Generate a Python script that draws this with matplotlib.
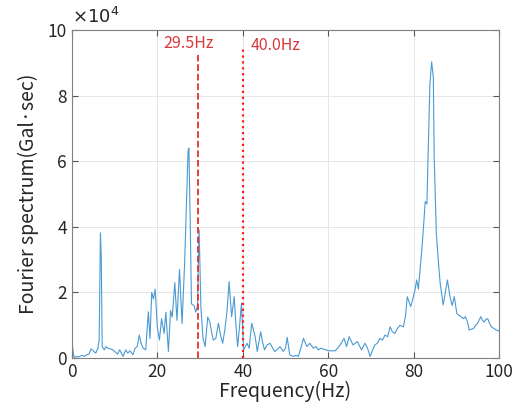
import matplotlib
matplotlib.use("Agg")
import matplotlib.pyplot as plt
from matplotlib.ticker import FuncFormatter
import numpy as np

# frequency (Hz) and amplitude (x 1e4 Gal*sec)
freq = [0, 0.15, 0.5, 1.0, 1.5, 2.0, 2.5, 3.0, 3.5, 4.0, 4.5, 5.0,
        5.6, 6.1, 6.4, 6.7, 6.9, 7.1, 7.6, 8.0, 8.4, 9.0, 9.6, 10.2, 10.7, 11.2, 12.0,
        12.6, 13.1, 13.6, 14.3, 14.8, 15.3, 15.8, 16.2, 16.7, 17.3, 17.9, 18.3, 18.7,
        19.1, 19.5, 20.0, 20.5, 21.0, 21.6, 22.0, 22.6, 23.1, 23.5, 24.1, 24.6,
        25.2, 25.8, 26.4, 26.8, 27.2, 27.4, 27.7, 28.0, 28.6, 29.0, 29.4, 29.8,
        30.2, 30.7, 31.2, 31.8, 32.3, 32.7, 33.1, 33.7, 34.3, 34.8, 35.3, 35.8,
        36.3, 36.8, 37.4, 38.0, 38.4, 38.8, 39.2, 39.7, 40.2, 41.0, 41.5, 42.1,
        42.5, 42.9, 43.4, 44.2, 44.6, 45.1, 45.7, 46.4, 47.0, 47.5, 48.0, 48.7,
        49.5, 50.0, 50.4, 51.0, 51.8, 52.5, 53.0, 53.6, 54.2, 55.0,
        55.7, 56.5, 57.1, 57.7, 58.3, 58.9, 59.5, 60.0, 61.0, 61.6,
        62.2, 62.8, 63.7, 64.3, 64.9, 65.8, 66.8, 67.8, 68.6, 69.2,
        69.8, 70.4, 70.9, 71.5, 72.1, 72.7, 73.3, 73.9, 74.5, 75.0, 75.6, 76.2, 76.8,
        77.6, 78.1, 78.5, 79.3, 79.8, 80.3, 80.7, 81.1, 81.5, 81.9, 82.3, 82.7,
        83.1, 83.4, 83.8, 84.2, 84.6, 84.8, 85.3, 85.8, 86.2, 86.9,
        87.4, 87.9, 88.5, 89.0, 89.5, 90.1, 90.6, 91.1, 91.6, 92.1, 92.6,
        93.0, 93.5, 94.0, 94.5, 94.9, 95.3, 95.7, 96.1, 96.5, 96.9, 97.3, 97.8, 98.2, 98.8, 99.4, 100]

amp = [0.40, 0.35, 0.02, 0.05, 0.03, 0.06, 0.08, 0.05, 0.10, 0.12, 0.28, 0.22,
       0.15, 0.30, 0.55, 3.82, 3.00, 0.35, 0.25, 0.35, 0.30, 0.28, 0.25, 0.18, 0.12, 0.25, 0.05,
       0.25, 0.15, 0.22, 0.10, 0.30, 0.35, 0.70, 0.45, 0.30, 0.25, 1.41, 0.60, 2.00,
       1.80, 2.10, 0.95, 0.55, 1.20, 0.75, 1.40, 0.20, 1.45, 1.25, 2.30, 1.15,
       2.70, 1.05, 2.90, 4.60, 6.30, 6.40, 4.20, 1.65, 1.60, 1.40, 1.60, 3.90,
       1.55, 0.60, 0.35, 1.25, 1.10, 0.80, 0.55, 0.60, 1.06, 0.70, 0.45, 0.85,
       1.40, 2.33, 1.26, 1.87, 1.00, 0.35, 0.90, 1.67, 0.25, 0.45, 0.30, 1.06,
       0.85, 0.65, 0.20, 0.80, 0.50, 0.25, 0.40, 0.45, 0.30, 0.20, 0.25, 0.35,
       0.20, 0.30, 0.63, 0.10, 0.05, 0.08, 0.05, 0.30, 0.60, 0.35,
       0.45, 0.30, 0.35, 0.25, 0.30, 0.27, 0.25, 0.22, 0.22, 0.22,
       0.30, 0.40, 0.60, 0.35, 0.65, 0.40, 0.50, 0.25, 0.45, 0.30,
       0.05, 0.25, 0.40, 0.45, 0.60, 0.55, 0.70, 0.65, 0.95, 0.80, 0.75, 0.90, 1.00,
       0.95, 1.30, 1.87, 1.57, 1.80, 2.07, 2.38, 2.10, 2.70, 3.30, 4.00, 4.77,
       4.70, 6.34, 8.37, 9.03, 8.55, 6.14, 3.80, 2.90, 2.28, 1.62,
       2.00, 2.38, 1.87, 1.60, 1.87, 1.36, 1.30, 1.26, 1.20, 1.26, 1.10,
       0.85, 0.88, 0.90, 1.00, 1.05, 1.15, 1.26, 1.15, 1.10, 1.18, 1.20, 1.05, 0.95, 0.90, 0.85, 0.82]

marker_freq = [29.5, 40.0]
marker_top = [9.25, 9.5]
marker_text = ["29.5Hz", "40.0Hz"]

label_font = ["Noto Sans CJK JP", "DejaVu Sans"]
plt.rcParams['font.family'] = label_font

fig = plt.figure(figsize=(5.13, 4.12), dpi=100)
ax = fig.add_axes([0.140, 0.131, 0.833, 0.796])

y = np.array(amp) * 1e4
ax.plot(freq, y, '-', color="#4a9ad4", linewidth=0.8)

# marker lines
ax.plot([marker_freq[0], marker_freq[0]], [0, marker_top[0] * 1e4], '--', color="#e8302e", linewidth=1.3)
ax.plot([marker_freq[1], marker_freq[1]], [0, marker_top[1] * 1e4], ':', color="#ff1a1a", linewidth=1.6)
ax.text(marker_freq[0] - 8.2, 9.45e4, marker_text[0], color="#d9383a", fontsize=11.5)
ax.text(marker_freq[1] + 1.8, 9.4e4, marker_text[1], color="#d9383a", fontsize=11.5)

ax.set_xlim(0, 100)
ax.set_ylim(0, 1e5)
ax.set_xticks([0, 20, 40, 60, 80, 100])
ax.set_yticks([0, 2e4, 4e4, 6e4, 8e4, 10e4])
ax.yaxis.set_major_formatter(FuncFormatter(lambda v, p: "%g" % (v / 1e4)))
ax.text(0.0, 1.01, r"$\times10^4$", transform=ax.transAxes, fontsize=13,
        family="DejaVu Sans", color="#262626", va="bottom", ha="left")

ax.grid(True, color="#e6e6e6", linewidth=0.7)
ax.set_axisbelow(True)
ax.tick_params(direction="in", length=4, labelsize=12.5, color="#555555",
               labelcolor="#262626", top=True, right=True)
for s in ax.spines.values():
    s.set_color("#7f7f7f")
    s.set_linewidth(0.8)

ax.set_xlabel("Frequency(Hz)", fontsize=14, labelpad=0, color="#262626")
ax.set_ylabel("Fourier spectrum(Gal\u00b7sec)", fontsize=14, labelpad=6, color="#262626")

fig.savefig("out.png", dpi=100)
